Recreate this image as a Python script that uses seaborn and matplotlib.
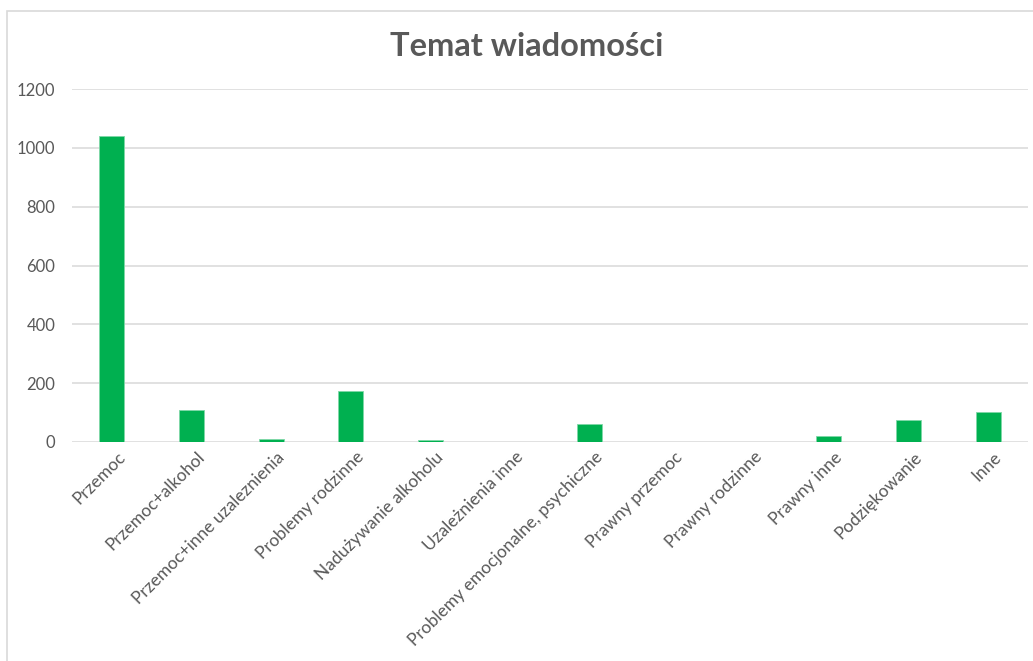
import matplotlib
matplotlib.use("Agg")
import matplotlib.pyplot as plt
import matplotlib.transforms as mtransforms
import seaborn as sns
import pandas as pd
from matplotlib.patches import Rectangle

# Data
categories = [
    "Przemoc", "Przemoc+alkohol", "Przemoc+inne uzaleznienia", "Problemy rodzinne",
    "Nadużywanie alkoholu", "Uzależnienia inne", "Problemy emocjonalne, psychiczne",
    "Prawny przemoc", "Prawny rodzinne", "Prawny inne", "Podziękowanie", "Inne",
]
counts = [1040, 109, 10, 173, 7, 0, 60, 0, 0, 19, 74, 102]
y_ticks = [0, 200, 400, 600, 800, 1000, 1200]

df = pd.DataFrame({"temat": categories, "liczba": counts})

sns.set_theme(style="white")
plt.rcParams["font.family"] = ["Lato", "DejaVu Sans"]

text_gray = "#595959"
bar_green = "#00B050"

fig = plt.figure(figsize=(10.33, 6.61), dpi=100)
ax = fig.add_axes([72 / 1033, 1 - 442 / 661, (1028 - 72) / 1033, (442 - 89) / 661])

sns.barplot(data=df, x="temat", y="liczba", color=bar_green, width=0.31,
            saturation=1, edgecolor="#7fd8a7", linewidth=0.6, ax=ax, zorder=3)

ax.set_ylim(0, 1200)
ax.set_yticks(y_ticks)
ax.set_yticklabels([str(v) for v in y_ticks])
ax.yaxis.grid(True, color="#d9d9d9", linewidth=1.1, zorder=0)
ax.set_axisbelow(True)
for s in ax.spines.values():
    s.set_visible(False)
ax.set_xlabel("")
ax.set_ylabel("")
ax.tick_params(axis="y", length=0, pad=12, labelsize=12, labelcolor=text_gray)
ax.tick_params(axis="x", length=0, pad=5, labelsize=12.5, labelcolor=text_gray)
shift = mtransforms.ScaledTranslation(5 / 100, 0, fig.dpi_scale_trans)
for lab in ax.get_xticklabels():
    lab.set_rotation(45)
    lab.set_ha("right")
    lab.set_rotation_mode("anchor")
    lab.set_transform(lab.get_transform() + shift)

fig.suptitle("Temat wiadomości", x=527 / 1033, y=1 - 47 / 661, va="center",
             fontsize=23.5, fontweight="bold", color=text_gray)

# light chart-area border like the spreadsheet frame
fig.patches.append(Rectangle((6.5 / 1033, -0.05), 1.2, 1 - 10.5 / 661 + 0.05,
                             transform=fig.transFigure, fill=False,
                             edgecolor="#d9d9d9", linewidth=1.2, zorder=0))

fig.savefig("out.png", dpi=100)
